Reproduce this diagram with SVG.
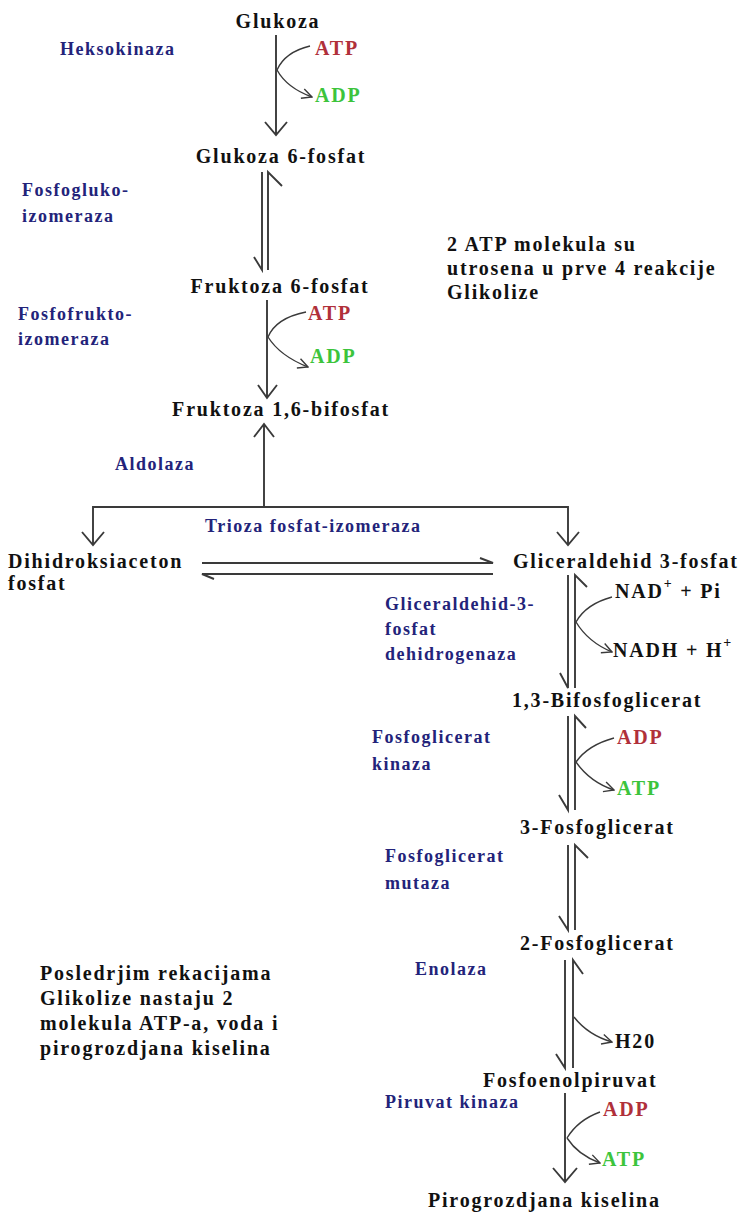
<svg xmlns="http://www.w3.org/2000/svg" width="742" height="1215" viewBox="0 0 742 1215">
<defs>
<marker id="open" viewBox="0 0 12 12" refX="11" refY="6" markerWidth="12" markerHeight="12" markerUnits="userSpaceOnUse" orient="auto">
<path d="M1,1 L11,6 L1,11" fill="none" stroke="#3a3a3a" stroke-width="1.4"/>
</marker>
</defs>
<style>
text{font-family:"Liberation Serif","Times New Roman",serif;font-weight:bold;font-size:20px;letter-spacing:1.8px;fill:#111}
.enz{fill:#23237a;font-size:18px;letter-spacing:1.5px}
.red{fill:#b0303a}
.grn{fill:#3cc43c}
.note{font-size:20px;letter-spacing:1.8px}
.ln{stroke:#3a3a3a;stroke-width:1.9;fill:none}
.cv{stroke:#3a3a3a;stroke-width:1.4;fill:none}
.mid{text-anchor:middle}
</style>
<rect width="742" height="1215" fill="#fff"/>

<g id="glukoza"><text x="278" y="28" class="mid">Glukoza</text></g>
<g id="g6p"><text x="281" y="163" class="mid">Glukoza 6-fosfat</text></g>
<g id="f6p"><text x="280" y="293" class="mid">Fruktoza 6-fosfat</text></g>
<g id="f16bp"><text x="281" y="416" class="mid">Fruktoza 1,6-bifosfat</text></g>
<g id="dhap"><text x="8" y="568">Dihidroksiaceton</text><text x="8" y="590">fosfat</text></g>
<g id="g3p"><text x="513" y="568">Gliceraldehid 3-fosfat</text></g>
<g id="bpg13"><text x="512" y="707">1,3-Bifosfoglicerat</text></g>
<g id="pg3"><text x="520" y="834">3-Fosfoglicerat</text></g>
<g id="pg2"><text x="520" y="950">2-Fosfoglicerat</text></g>
<g id="pep"><text x="483" y="1087">Fosfoenolpiruvat</text></g>
<g id="piruvat"><text x="428" y="1207">Pirogrozdjana kiselina</text></g>

<g id="enzymes">
<text class="enz" x="60" y="55">Heksokinaza</text>
<text class="enz" x="22" y="196">Fosfogluko-</text>
<text class="enz" x="22" y="222">izomeraza</text>
<text class="enz" x="18" y="320">Fosfofrukto-</text>
<text class="enz" x="18" y="345">izomeraza</text>
<text class="enz" x="115" y="470">Aldolaza</text>
<text class="enz" x="205" y="532">Trioza fosfat-izomeraza</text>
<text class="enz" x="385" y="610">Gliceraldehid-3-</text>
<text class="enz" x="385" y="635">fosfat</text>
<text class="enz" x="385" y="660">dehidrogenaza</text>
<text class="enz" x="372" y="743">Fosfoglicerat</text>
<text class="enz" x="372" y="770">kinaza</text>
<text class="enz" x="385" y="862">Fosfoglicerat</text>
<text class="enz" x="385" y="889">mutaza</text>
<text class="enz" x="415" y="975">Enolaza</text>
<text class="enz" x="385" y="1108">Piruvat kinaza</text>
</g>

<g id="cofactors">
<text class="red" x="315" y="55">ATP</text>
<text class="grn" x="315" y="102">ADP</text>
<text class="red" x="308" y="320">ATP</text>
<text class="grn" x="310" y="363">ADP</text>
<text x="615" y="598">NAD<tspan font-size="14" dy="-10">+</tspan><tspan dy="10"> + Pi</tspan></text>
<text x="613" y="657">NADH + H<tspan font-size="14" dy="-10">+</tspan></text>
<text class="red" x="617" y="744">ADP</text>
<text class="grn" x="617" y="795">ATP</text>
<text x="615" y="1048">H20</text>
<text class="red" x="603" y="1116">ADP</text>
<text class="grn" x="602" y="1166">ATP</text>
</g>

<g id="notes">
<text class="note" x="447" y="251">2 ATP molekula su</text>
<text class="note" x="447" y="275">utrosena u prve 4 reakcije</text>
<text class="note" x="447" y="299">Glikolize</text>
<text class="note" x="40" y="980">Posledrjim rekacijama</text>
<text class="note" x="40" y="1005">Glikolize nastaju 2</text>
<text class="note" x="40" y="1030">molekula ATP-a, voda i</text>
<text class="note" x="40" y="1055">pirogrozdjana kiselina</text>
</g>

<g id="connectors">
<path class="ln" d="M276,35 V135 M265,122 L276,135 L287,122"/>
<path class="cv" d="M277,70 Q285,52 310,46"/>
<path class="cv" d="M277,70 Q287,88 312,97" marker-end="url(#open)"/>
<path class="ln" d="M262,172 V270 L254,257"/>
<path class="ln" d="M268,270 V172 L282,186"/>
<path class="ln" d="M267,300 V398 M258,385 L267,398 L277,385"/>
<path class="cv" d="M268,337 Q276,318 306,312"/>
<path class="cv" d="M268,337 Q280,356 308,367" marker-end="url(#open)"/>
<path class="ln" d="M264,507 V424 M254,437 L264,424 L274,437"/>
<path class="ln" d="M93,545 V507 H568 V545"/>
<path class="ln" d="M82,532 L93,545 L104,532 M557,532 L568,545 L579,532"/>
<path class="ln" d="M202,563 H493 L480,558"/>
<path class="ln" d="M493,574 H202 L214,579"/>
<path class="ln" d="M568,575 V688 L560,673"/>
<path class="ln" d="M575,688 V575 L587,587"/>
<path class="cv" d="M576,622 Q586,604 612,597"/>
<path class="cv" d="M576,622 Q588,642 612,652" marker-end="url(#open)"/>
<path class="ln" d="M568,716 V810 L559,795"/>
<path class="ln" d="M575,810 V716 L586,728"/>
<path class="cv" d="M576,762 Q588,745 614,738"/>
<path class="cv" d="M576,762 Q590,782 614,790" marker-end="url(#open)"/>
<path class="ln" d="M568,845 V930 L559,916"/>
<path class="ln" d="M575,930 V845 L588,858"/>
<path class="ln" d="M565,960 V1068 L556,1054"/>
<path class="ln" d="M573,1068 V960 L583,974"/>
<path class="cv" d="M574,1017 Q588,1035 612,1042" marker-end="url(#open)"/>
<path class="ln" d="M565,1093 V1182 M553,1168 L565,1182 L577,1168"/>
<path class="cv" d="M567,1138 Q578,1120 600,1112"/>
<path class="cv" d="M567,1138 Q578,1155 600,1163" marker-end="url(#open)"/>
</g>
</svg>
